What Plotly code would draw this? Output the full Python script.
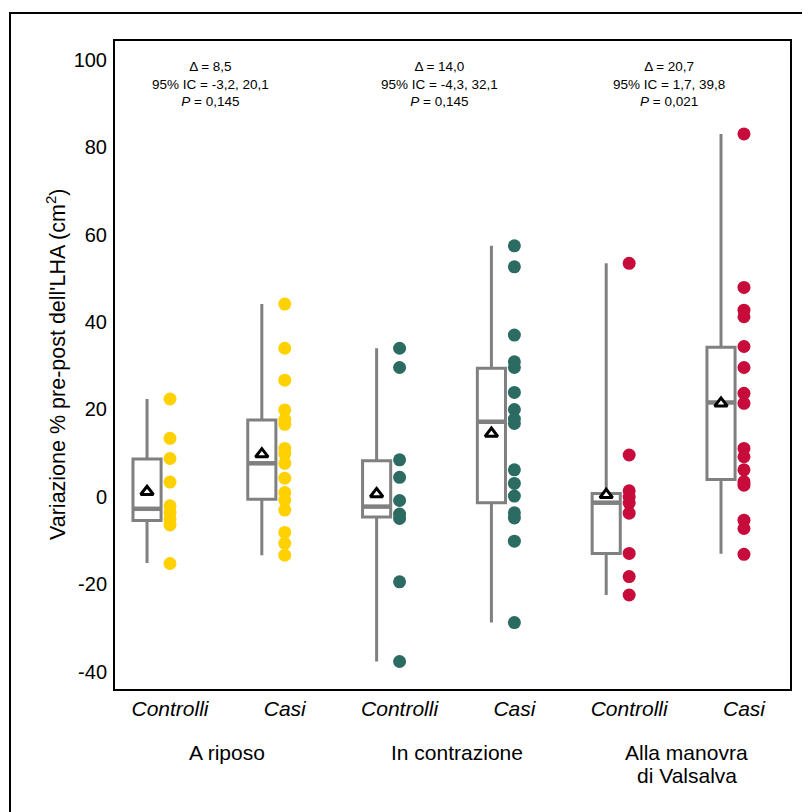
import plotly.graph_objects as go

# ---- data ----
group_labels = ["A riposo", "In contrazione", "Alla manovra<br>di Valsalva"]
sub_labels = ["Controlli", "Casi"]
colors = ["#FFD100", "#2C6B62", "#C70B3A"]
y_ticks = [-40, -20, 0, 20, 40, 60, 80, 100]
y_tick_text = ["-40", "-20", "0", "20", "40", "60", "80", "100"]

riposo_controlli = [22.4, 13.4, 8.8, 3.4, -2.0, -3.5, -5.0, -6.4, -15.2]
riposo_casi = [44.1, 34.0, 26.7, 19.9, 17.7, 16.6, 11.1, 9.8, 7.7, 4.3, 1.0, -0.7, -3.0, -8.1, -10.6, -13.3]
contr_controlli = [34.0, 29.6, 8.5, 4.5, -0.8, -3.9, -4.9, -19.4, -37.6]
contr_casi = [57.4, 52.6, 37.0, 30.9, 29.6, 23.9, 20.0, 17.8, 16.8, 6.2, 3.1, 0.2, -3.6, -4.8, -10.1, -28.7]
vals_controlli = [53.4, 9.6, 1.4, 0.0, -1.4, -3.7, -12.9, -18.2, -22.4]
vals_casi = [83.0, 47.9, 42.7, 41.2, 34.4, 29.6, 23.7, 21.4, 11.1, 9.2, 6.2, 3.5, 2.7, -5.3, -7.2, -13.1]

series = [riposo_controlli, riposo_casi, contr_controlli, contr_casi, vals_controlli, vals_casi]

# box statistics (in order of series)
q1 = [-5.4, -0.5, -4.6, -1.3, -12.9, 4.0]
median = [-2.7, 7.7, -2.2, 17.2, -1.3, 21.6]
q3 = [8.7, 17.6, 8.3, 29.4, 0.8, 34.2]
lowerfence = [-15.1, -13.3, -37.6, -28.7, -22.4, -13.0]
upperfence = [22.4, 44.1, 34.0, 57.4, 53.4, 83.0]
means = [1.2, 9.8, 0.7, 14.5, 0.5, 21.4]

stats_text = [
    "Δ = 8,5<br>95% IC = -3,2, 20,1<br><i>P</i> = 0,145",
    "Δ = 14,0<br>95% IC = -4,3, 32,1<br><i>P</i> = 0,145",
    "Δ = 20,7<br>95% IC = 1,7, 39,8<br><i>P</i> = 0,021",
]

FONT = "Arial, Liberation Sans, sans-serif"
positions = [1, 2, 3, 4, 5, 6]
box_offset = -0.2

fig = go.Figure()

for i, vals in enumerate(series):
    col = colors[i // 2]
    bx = positions[i] + box_offset
    fig.add_trace(go.Box(
        x=[bx], q1=[q1[i]], median=[median[i]], q3=[q3[i]],
        lowerfence=[lowerfence[i]], upperfence=[upperfence[i]],
        width=0.245, whiskerwidth=0,
        line=dict(color="#808080", width=3), fillcolor="white",
        boxpoints=False, showlegend=False, hoverinfo="skip",
    ))
    # thicker median bar
    fig.add_trace(go.Scatter(
        x=[bx - 0.1225, bx + 0.1225], y=[median[i], median[i]], mode="lines",
        line=dict(color="#808080", width=4.5), showlegend=False, hoverinfo="skip",
    ))
    fig.add_trace(go.Scatter(
        x=[positions[i]] * len(vals), y=vals, mode="markers",
        marker=dict(color=col, size=13, line=dict(width=0)),
        showlegend=False,
    ))
    fig.add_trace(go.Scatter(
        x=[bx], y=[means[i]], mode="markers",
        marker=dict(symbol="triangle-up", color="white", size=11,
                    line=dict(color="black", width=3)),
        showlegend=False,
    ))

annotations = []
for g in range(3):
    mid = (positions[2 * g] + positions[2 * g + 1]) / 2
    annotations.append(dict(
        x=mid - 0.15, y=1 - (57 - 41) / 648, xref="x", yref="paper",
        text=stats_text[g], showarrow=False, xanchor="center", yanchor="top",
        font=dict(family=FONT, size=13.5, color="black"), align="center",
    ))
    lines = group_labels[g].split("<br>")
    for k, ln in enumerate(lines):
        annotations.append(dict(
            x=mid, y=1 - (752 + 23 * k - 41) / 648, xref="x", yref="paper",
            text=ln, showarrow=False, xanchor="center", yanchor="middle",
            font=dict(family=FONT, size=21, color="black"),
        ))

annotations.append(dict(
    x=(56 - 115) / 675, y=0.5, xref="paper", yref="paper",
    text="Variazione % pre-post dell'LHA (cm<sup>2</sup>)", textangle=-90,
    showarrow=False, xanchor="center", yanchor="middle",
    font=dict(family=FONT, size=21.5, color="black"),
))

fig.update_layout(
    width=810, height=812,
    margin=dict(l=107, r=28, t=33, b=131),
    paper_bgcolor="white", plot_bgcolor="white",
    boxmode="overlay",
    font=dict(family=FONT, color="black"),
    annotations=annotations,
    shapes=[dict(type="rect", xref="paper", yref="paper",
                 x0=(10 - 115) / 675, x1=(840 - 115) / 675,
                 y0=1 - (13 - 41) / 648, y1=1 - (850 - 41) / 648,
                 line=dict(color="black", width=2), fillcolor="rgba(0,0,0,0)",
                 layer="below")],
)

fig.update_xaxes(
    range=[0.521, 6.401], tickmode="array", tickvals=positions,
    ticktext=["<i>%s</i>" % sub_labels[i % 2] for i in range(6)],
    tickfont=dict(family=FONT, size=21, color="black"),
    showgrid=False, zeroline=False, showline=True, mirror=True,
    linecolor="black", linewidth=2, ticks="",
)
fig.update_yaxes(
    range=[-43.89, 104.23], tickmode="array",
    tickvals=y_ticks, ticktext=y_tick_text,
    tickfont=dict(family=FONT, size=20, color="black"),
    showgrid=False, zeroline=False, showline=True, mirror=True,
    linecolor="black", linewidth=2,
    ticks="outside", ticklen=2, tickcolor="rgba(0,0,0,0)",
)

fig.write_html("out.html")
